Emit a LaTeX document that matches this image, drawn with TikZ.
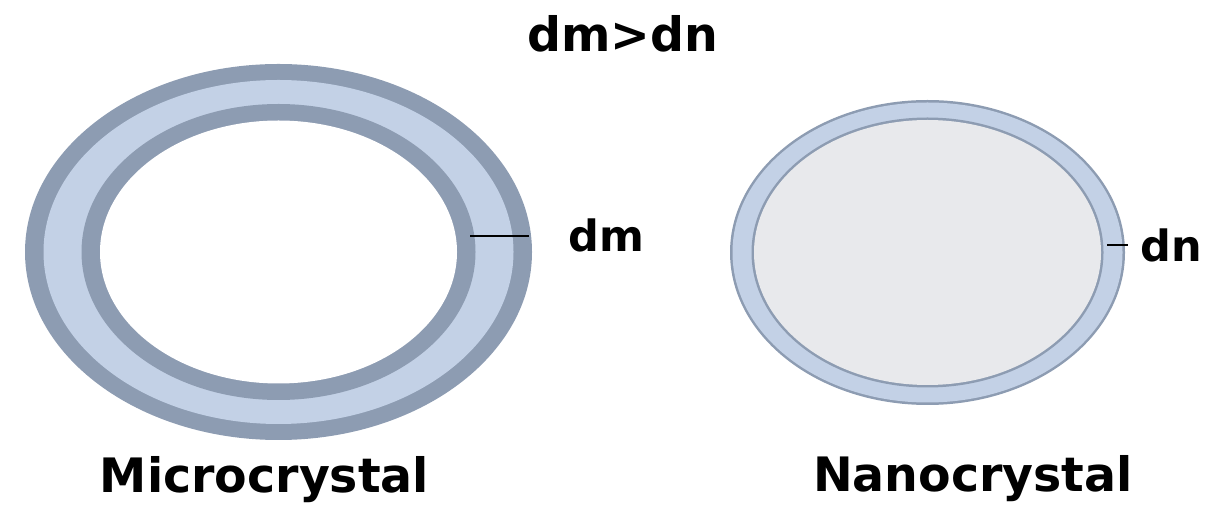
\documentclass[tikz,border=0pt]{standalone}
\usepackage{fontspec}
\setmainfont{DejaVu Sans}
\definecolor{ringdark}{RGB}{141,156,178}
\definecolor{ringlight}{RGB}{195,209,230}
\definecolor{coregray}{RGB}{232,233,236}
\begin{document}
\begin{tikzpicture}[x=0.02cm, y=-0.02cm,
  bigtext/.style={inner sep=0pt, font=\fontsize{27}{30}\selectfont\bfseries},
  ticktext/.style={inner sep=0pt, font=\fontsize{24.5}{28}\selectfont\bfseries}]
  \useasboundingbox (0,0) rectangle (1216,519);

  % microcrystal: thick shell
  \foreach \rx/\ry/\col in {253.5/188/ringdark, 235/172/ringlight, 197/148/ringdark, 178.5/131.5/white}
    \fill[\col] (278.5,252) ellipse [x radius=\rx, y radius=\ry];

  % nanocrystal: thin shell
  \foreach \rx/\ry/\col in {197.5/152.5/ringdark, 195/150/ringlight, 176/135/ringdark, 173.5/132.5/coregray}
    \fill[\col] (927.5,252.5) ellipse [x radius=\rx, y radius=\ry];

  \coordinate (dmin) at (470,236);
  \coordinate (dmout) at (529,236);
  \coordinate (dnin) at (1107,245);
  \coordinate (dnout) at (1128,245);
  \draw[line width=1.4pt] (dmin) -- (dmout);
  \draw[line width=1.4pt] (dnin) -- (dnout);

  \node[bigtext, anchor=base] (title) at (622.5,52) {dm>dn};
  \node[ticktext, anchor=base west] (dmlabel) at (568,252) {dm};
  \node[ticktext, anchor=base west] (dnlabel) at (1140,262) {dn};

  \node[bigtext, anchor=base] (micro) at (264.5,493) {Microcrystal};
  \node[bigtext, anchor=base] (nano) at (973,492) {Nanocrystal};
\end{tikzpicture}
\end{document}
